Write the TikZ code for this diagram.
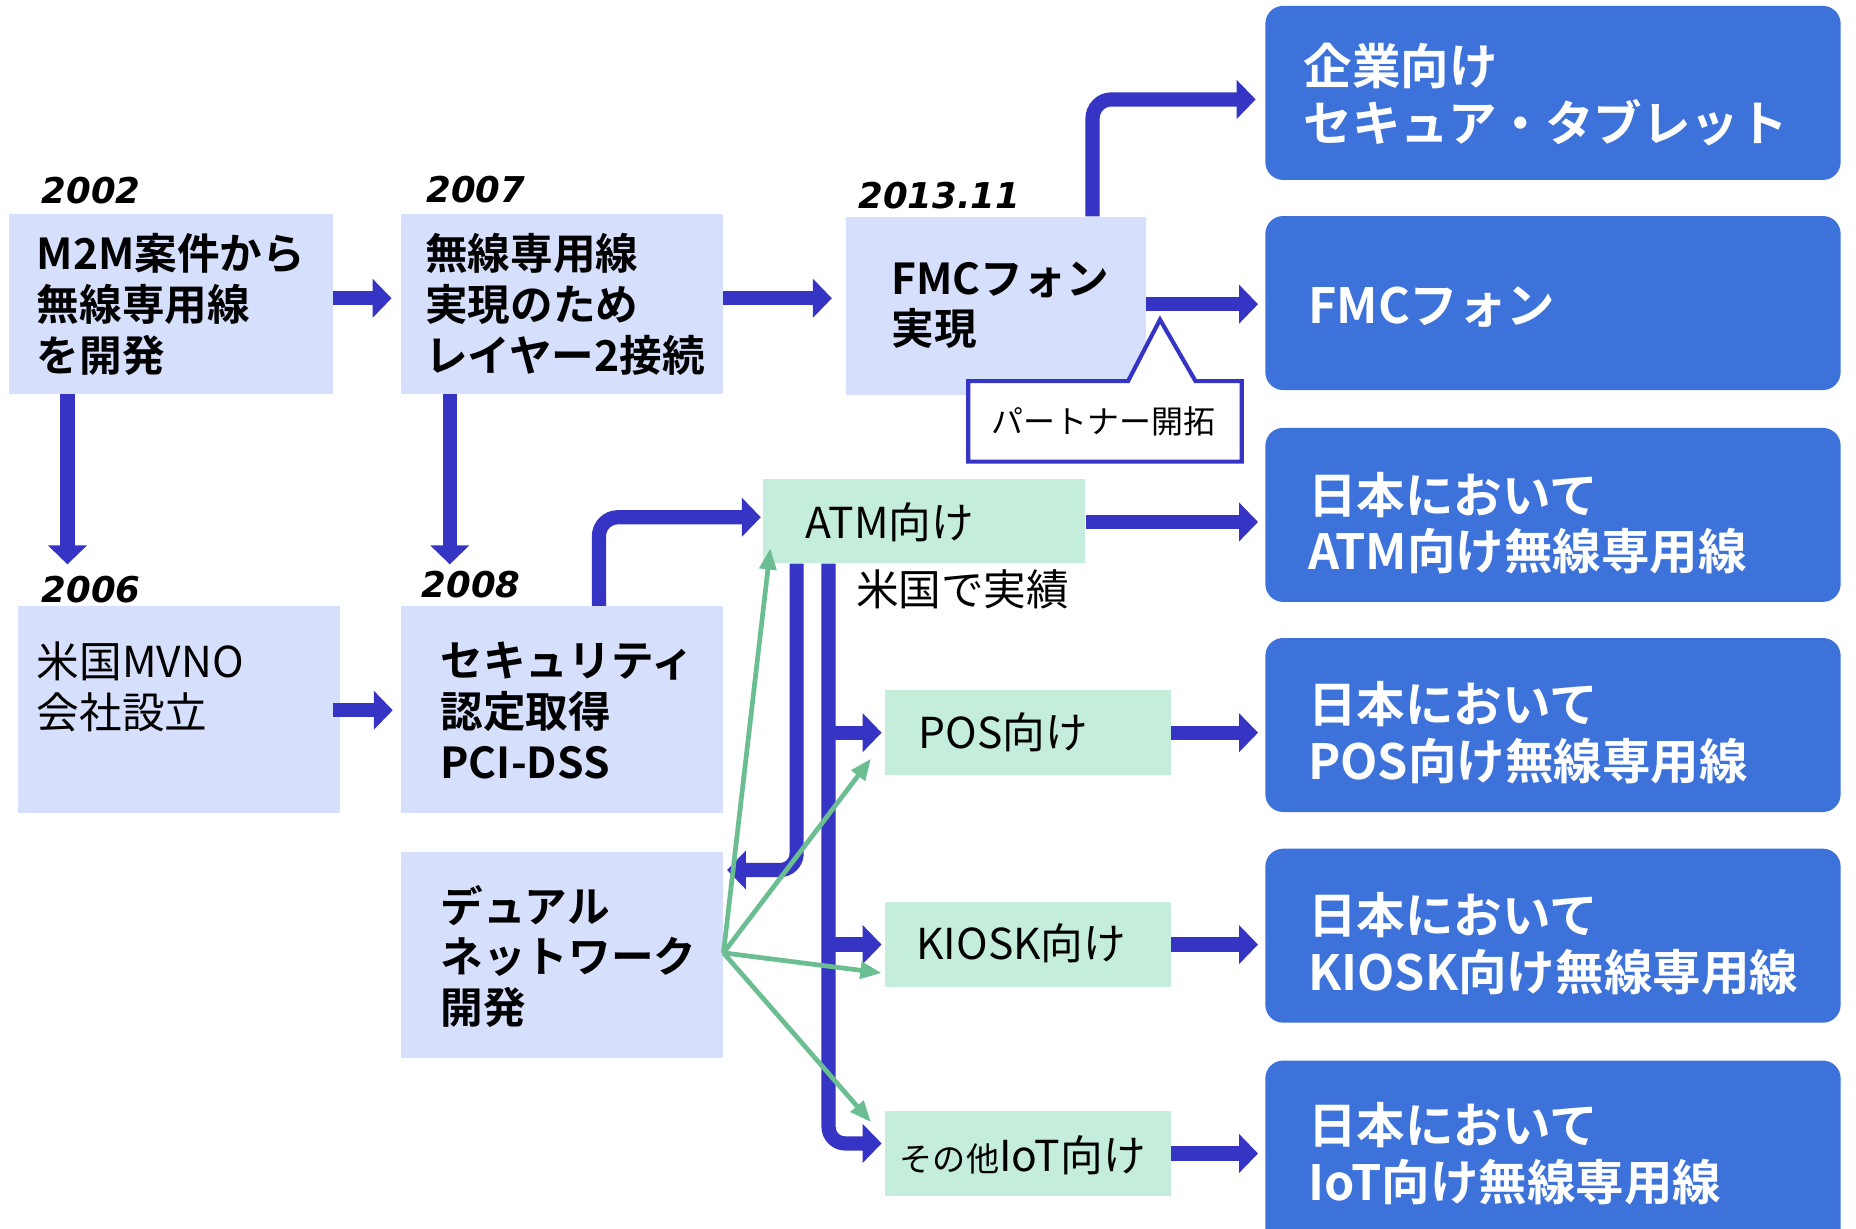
\documentclass[tikz,border=0pt]{standalone}
\usepackage{fontspec}
\newfontfamily\jp{Noto Sans CJK JP}[BoldFont={Noto Sans CJK JP Bold}]
\newfontfamily\yrf{DejaVu Sans Bold Oblique}
\usetikzlibrary{arrows.meta,calc}
\definecolor{lb}{RGB}{214,224,252}
\definecolor{gb}{RGB}{196,238,219}
\definecolor{db}{RGB}{60,114,217}
\definecolor{ab}{RGB}{54,52,196}
\definecolor{ga}{RGB}{107,190,146}
\begin{document}
\begin{tikzpicture}[x=1pt,y=-1pt,
 lbox/.style={fill=lb, draw=none, inner sep=0pt},
 gbox/.style={fill=gb, draw=none, inner sep=0pt, minimum width=241, minimum height=72},
 rbox/.style={fill=db, draw=none, rounded corners=15pt, inner sep=0pt, minimum width=486, minimum height=147},
 btxt/.style={font=\jp\bfseries\fontsize{36}{43}\selectfont, align=left, anchor=west, inner sep=0pt},
 rtxt/.style={font=\jp\bfseries\fontsize{41}{48}\selectfont, text=white, align=left, anchor=west, inner sep=0pt},
 ntxt/.style={font=\jp\fontsize{36}{43}\selectfont, align=left, anchor=west, inner sep=0pt},
 yr/.style={font=\yrf\fontsize{30}{36}\selectfont, anchor=west, inner sep=0pt},
 barrow/.style={draw=ab, line width=12pt, -{Triangle[width=32pt,length=16pt]}},
 garrow/.style={draw=ga, line width=4pt, -{Triangle[width=14pt,length=18pt]}},
]
\useasboundingbox (0,0) rectangle (1568,1038);

% light blue boxes
\node[lbox, minimum width=273, minimum height=152] (A) at (144.5,257) {};
\node[lbox, minimum width=272, minimum height=152] (B) at (475,257) {};
\node[lbox, minimum width=253, minimum height=151] (C) at (841.5,258.5) {};
\node[lbox, minimum width=272, minimum height=175] (D) at (151,599.5) {};
\node[lbox, minimum width=272, minimum height=175] (E) at (475,599.5) {};
\node[lbox, minimum width=272, minimum height=174] (F) at (475,807) {};

% green boxes
\node[gbox, minimum width=272, minimum height=71] (ATM) at (781,440.5) {};
\node[gbox] (POS) at (868.5,619) {};
\node[gbox] (KIOSK) at (868.5,798) {};
\node[gbox] (IOT) at (868.5,974.5) {};

% right boxes
\node[rbox] (R1) at (1312,78.5) {};
\node[rbox] (R2) at (1312,256) {};
\node[rbox] (R3) at (1312,435) {};
\node[rbox] (R4) at (1312,612.5) {};
\node[rbox] (R5) at (1312,790.5) {};
\node[rbox, minimum height=160] (R6) at (1312,976) {};

% texts
\node[btxt] (At) at (31,257) {M2M案件から\\無線専用線\\を開発};
\node[btxt] (Bt) at (359,257) {無線専用線\\実現のため\\レイヤー2接続};
\node[btxt] (Ct) at (753,258) {FMCフォン\\実現};
\node[ntxt] (Dt) at (31,580) {米国MVNO\\会社設立};
\node[btxt] (Et) at (372,600) {セキュリティ\\認定取得\\PCI-DSS};
\node[btxt] (Ft) at (372,808) {デュアル\\ネットワーク\\開発};

\node[yr] (Y1) at (35,161) {2002};
\node[yr] (Y2) at (360,160) {2007};
\node[yr] (Y3) at (725,165) {2013.11};
\node[yr] (Y4) at (35,498) {2006};
\node[yr] (Y5) at (356,494) {2008};

\node[ntxt] (ATMt) at (680,441) {ATM向け};
\node[ntxt] (POSt) at (776,619) {POS向け};
\node[ntxt] (KIOSKt) at (774,797) {KIOSK向け};
\node[ntxt] (IOTt) at (760,976) {{\fontsize{28}{30}\selectfont その他}IoT向け};
\node[ntxt] (US) at (723,498) {米国で実績};

\node[rtxt] (R1t) at (1101,80) {企業向け\\セキュア・タブレット};
\node[rtxt] (R2t) at (1105,259) {FMCフォン};
\node[rtxt] (R3t) at (1105,442) {日本において\\ATM向け無線専用線};
\node[rtxt] (R4t) at (1105,619) {日本において\\POS向け無線専用線};
\node[rtxt] (R5t) at (1105,797) {日本において\\KIOSK向け無線専用線};
\node[rtxt] (R6t) at (1105,975) {日本において\\IoT向け無線専用線};

% blue arrows
\draw[barrow, shorten >=8pt] (A.east |- 0,252) -- (B.west |- 0,252);
\draw[barrow, shorten >=12pt] (B.east |- 0,252) -- (C.west |- 0,252);
\draw[barrow, shorten >=6pt] (C.east |- 0,257) -- (R2.west |- 0,257);
\draw[barrow, shorten >=8pt, rounded corners=16pt] (923,0 |- C.north) -- (923,84) -- (R1.west |- 0,84);
\draw[barrow, shorten >=35pt] (57,0 |- A.south) -- (57,0 |- D.north);
\draw[barrow, shorten >=35pt] (380,0 |- B.south) -- (380,0 |- E.north);
\draw[barrow, shorten >=7pt] ([xshift=-6pt]D.east |- 0,600) -- (E.west |- 0,600);
\draw[barrow, shorten >=2pt, rounded corners=16pt] (506,0 |- E.north) -- (506,437) -- (ATM.west |- 0,437);
\draw[barrow, shorten >=6pt] (ATM.east |- 0,441) -- (R3.west |- 0,441);
\draw[barrow, shorten >=3pt, rounded corners=14pt] (673,0 |- ATM.south) -- (673,735) -- (F.east |- 0,735);
\draw[barrow, shorten >=3pt, rounded corners=14pt] (700,0 |- ATM.south) -- (700,966) -- (IOT.west |- 0,966);
\coordinate (J1) at (700,619);
\coordinate (J2) at (700,798);
\draw[barrow, shorten >=3pt] (J1) -- (POS.west);
\draw[barrow, shorten >=3pt] (J2) -- (KIOSK.west);
\draw[barrow, shorten >=6pt] (POS.east) -- (R4.west |- POS.east);
\draw[barrow, shorten >=6pt] (KIOSK.east) -- (R5.west |- KIOSK.east);
\draw[barrow, shorten >=6pt] (IOT.east) -- (R6.west |- IOT.east);

% callout
\draw[ab, line width=3.5pt, fill=white, line join=miter]
  (818,322) -- (953,322) -- (980,270) -- (1010,322) -- (1049,322) -- (1049,390) -- (818,390) -- cycle;
\node[font=\jp\fontsize{27}{30}\selectfont, inner sep=0pt] (P) at (932,356) {パートナー開拓};

% green arrows
\coordinate (G0) at (F.east |- 0,805);
\draw[garrow] (G0) -- ($(ATM.south west)+(6,-13)$);
\draw[garrow] (G0) -- ($(POS.west)+(-12,22)$);
\draw[garrow] (G0) -- ($(KIOSK.west)+(-3,24)$);
\draw[garrow] (G0) -- ($(IOT.west)+(-12,-26.5)$);
\end{tikzpicture}
\end{document}
